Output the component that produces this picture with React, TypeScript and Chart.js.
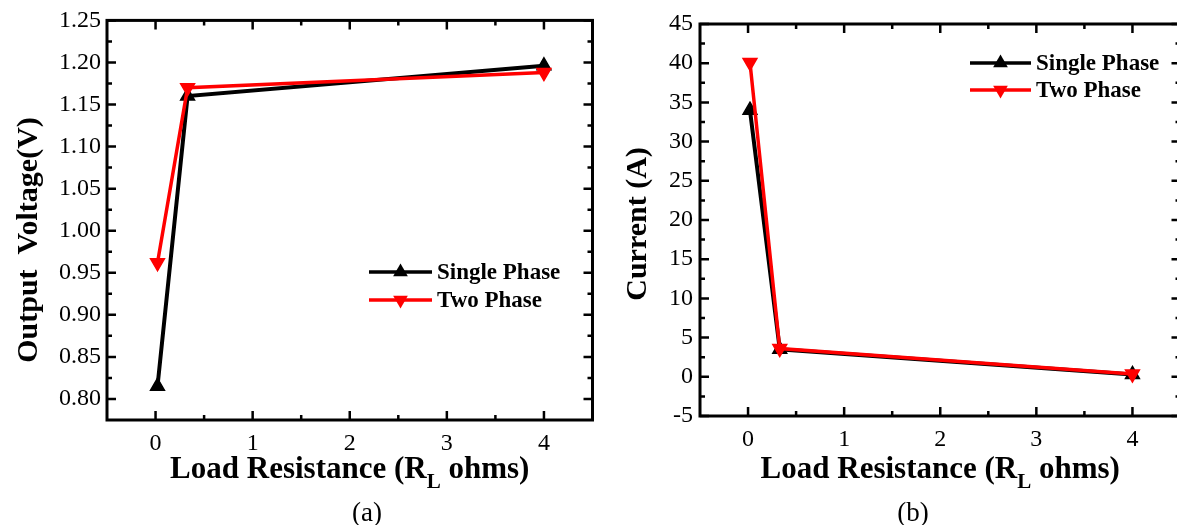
import React, { useEffect, useRef } from "react";
import { Chart, registerables } from "chart.js";

Chart.register(...registerables);

// ---------- data ----------
const resistance = [0.02, 0.33, 4];
const voltageSingle = [0.815, 1.16, 1.196];
const voltageTwo = [0.962, 1.17, 1.188];
const currentSingle = [34.0, 3.5, 0.3];
const currentTwo = [40.1, 3.6, 0.35];
const xTickValues = [0, 1, 2, 3, 4];
const voltageTicks = [0.8, 0.85, 0.9, 0.95, 1.0, 1.05, 1.1, 1.15, 1.2, 1.25];
const currentTicks = [-5, 0, 5, 10, 15, 20, 25, 30, 35, 40, 45];
const seriesLabels = ["Single Phase", "Two Phase"];
const xTitleParts = ["Load Resistance (R", "L", " ohms)"];
const captions = ["(a)", "(b)"];
const yTitles = ["Output  Voltage(V)", "Current (A)"];

const SERIF = "'Liberation Serif', 'Times New Roman', serif";

function minorsOf(major: number[], min: number, max: number) {
  const out: number[] = [];
  for (let i = 0; i < major.length - 1; i++) out.push((major[i] + major[i + 1]) / 2);
  const step = major[1] - major[0];
  const before = major[0] - step / 2;
  const after = major[major.length - 1] + step / 2;
  if (before > min + 1e-9) out.push(before);
  if (after < max - 1e-9) out.push(after);
  return out;
}

const framePlugin = {
  id: "frameTicks",
  afterDraw(chart: any) {
    const { ctx, chartArea } = chart;
    const { left, right, top, bottom } = chartArea;
    const xs = chart.scales.x;
    const ys = chart.scales.y;
    const o = chart.options.plugins.frameTicks;
    ctx.save();
    ctx.strokeStyle = "#000";
    ctx.lineCap = "butt";
    ctx.lineWidth = 2.5;
    const major = 9;
    const minor = 5;
    const drawX = (v: number, len: number) => {
      const p = xs.getPixelForValue(v);
      ctx.beginPath();
      ctx.moveTo(p, bottom);
      ctx.lineTo(p, bottom - len);
      ctx.moveTo(p, top);
      ctx.lineTo(p, top + len);
      ctx.stroke();
    };
    const drawY = (v: number, len: number) => {
      const p = ys.getPixelForValue(v);
      ctx.beginPath();
      ctx.moveTo(left, p);
      ctx.lineTo(left + len, p);
      ctx.moveTo(right, p);
      ctx.lineTo(right - len, p);
      ctx.stroke();
    };
    o.xMajor.forEach((v: number) => drawX(v, major));
    minorsOf(o.xMajor, xs.min, xs.max).forEach((v) => drawX(v, minor));
    o.yMajor.forEach((v: number) => drawY(v, major));
    minorsOf(o.yMajor, ys.min, ys.max).forEach((v) => drawY(v, minor));
    ctx.lineWidth = 3;
    ctx.strokeRect(left, top, right - left, bottom - top);

    // legend
    const lg = o.legend;
    chart.data.datasets.forEach((ds: any, i: number) => {
      const idx = lg.order[i];
      const y = lg.y + idx * lg.gap;
      ctx.strokeStyle = ds.borderColor;
      ctx.lineWidth = 3.5;
      ctx.beginPath();
      ctx.moveTo(lg.x, y);
      ctx.lineTo(lg.x + lg.len, y);
      ctx.stroke();
      ctx.fillStyle = ds.pointBackgroundColor;
      ctx.beginPath();
      const r = 8.5;
      const cx = lg.x + lg.len / 2;
      if (ds.pointRotation === 180) {
        ctx.moveTo(cx, y + r);
        ctx.lineTo(cx - r * 0.866, y - r * 0.5);
        ctx.lineTo(cx + r * 0.866, y - r * 0.5);
      } else {
        ctx.moveTo(cx, y - r);
        ctx.lineTo(cx - r * 0.866, y + r * 0.5);
        ctx.lineTo(cx + r * 0.866, y + r * 0.5);
      }
      ctx.closePath();
      ctx.fill();
      ctx.fillStyle = "#000";
      ctx.font = `bold 23px ${SERIF}`;
      ctx.textAlign = "left";
      ctx.textBaseline = "middle";
      ctx.fillText(ds.label, lg.x + lg.len + 5, y + 1);
    });

    // x title with subscript
    const cxT = (left + right) / 2;
    const big = `bold 31px ${SERIF}`;
    const small = `bold 21px ${SERIF}`;
    ctx.font = big;
    const w1 = ctx.measureText(o.xTitle[0]).width;
    const w3 = ctx.measureText(o.xTitle[2]).width;
    ctx.font = small;
    const w2 = ctx.measureText(o.xTitle[1]).width;
    const total = w1 + w2 + w3;
    let xp = cxT - total / 2;
    ctx.fillStyle = "#000";
    ctx.textAlign = "left";
    ctx.textBaseline = "alphabetic";
    ctx.font = big;
    ctx.fillText(o.xTitle[0], xp, o.xTitleY);
    xp += w1;
    ctx.font = small;
    ctx.fillText(o.xTitle[1], xp, o.xTitleY + 10);
    xp += w2;
    ctx.font = big;
    ctx.fillText(o.xTitle[2], xp, o.xTitleY);

    // y title
    ctx.save();
    ctx.translate(o.yTitleX, o.yTitleY);
    ctx.rotate(-Math.PI / 2);
    ctx.font = `bold 30px ${SERIF}`;
    ctx.textAlign = "center";
    ctx.textBaseline = "alphabetic";
    ctx.fillText(o.yTitle, 0, 0);
    ctx.restore();

    ctx.restore();
  },
};

type Panel = {
  canvasLeft: number;
  canvasWidth: number;
  yAxisW: number;
  padTop: number;
  padRight: number;
  xAxisH: number;
  yMin: number;
  yMax: number;
  yTicks: number[];
  decimals: number;
  yLabelPad: number;
  single: number[];
  two: number[];
  yTitle: string;
  yTitleX: number;
  yTitleY: number;
  legend: { x: number; y: number; gap: number; len: number; order: number[] };
};

function PanelChart({ p }: { p: Panel }) {
  const ref = useRef<HTMLCanvasElement | null>(null);
  useEffect(() => {
    if (!ref.current) return;
    const tickFont = { family: SERIF, size: 24, weight: "normal" as const };
    const chart = new Chart(ref.current, {
      type: "line",
      data: {
        datasets: [
          {
            label: seriesLabels[1],
            data: resistance.map((x, i) => ({ x, y: p.two[i] })),
            borderColor: "#ff0000",
            backgroundColor: "#ff0000",
            pointBackgroundColor: "#ff0000",
            pointBorderColor: "#ff0000",
            pointStyle: "triangle",
            pointRotation: 180,
            pointRadius: 8,
            pointBorderWidth: 1.5,
            borderWidth: 3.5,
            tension: 0,
            order: 0,
          } as any,
          {
            label: seriesLabels[0],
            data: resistance.map((x, i) => ({ x, y: p.single[i] })),
            borderColor: "#000000",
            backgroundColor: "#000000",
            pointBackgroundColor: "#000000",
            pointBorderColor: "#000000",
            pointStyle: "triangle",
            pointRotation: 0,
            pointRadius: 8,
            pointBorderWidth: 1.5,
            borderWidth: 4,
            tension: 0,
            order: 1,
          } as any,
        ],
      },
      options: {
        responsive: false,
        animation: false,
        events: [],
        layout: { padding: { top: p.padTop, right: p.padRight, left: 0, bottom: 0 } },
        plugins: {
          legend: { display: false },
          tooltip: { enabled: false },
          frameTicks: {
            xMajor: xTickValues,
            yMajor: p.yTicks,
            legend: p.legend,
            xTitle: xTitleParts,
            xTitleY: 478,
            yTitle: p.yTitle,
            yTitleX: p.yTitleX,
            yTitleY: p.yTitleY,
          },
        } as any,
        scales: {
          x: {
            type: "linear",
            min: -0.5,
            max: 4.5,
            grid: { display: false, drawTicks: false },
            border: { display: false },
            afterBuildTicks: (s: any) => {
              s.ticks = xTickValues.map((v) => ({ value: v }));
            },
            afterFit: (s: any) => {
              s.height = p.xAxisH;
            },
            ticks: { font: tickFont, color: "#000", padding: 9, maxRotation: 0, autoSkip: false },
          },
          y: {
            type: "linear",
            min: p.yMin,
            max: p.yMax,
            grid: { display: false, drawTicks: false },
            border: { display: false },
            afterBuildTicks: (s: any) => {
              s.ticks = p.yTicks.map((v) => ({ value: v }));
            },
            afterFit: (s: any) => {
              s.width = p.yAxisW;
            },
            ticks: {
              font: tickFont,
              color: "#000",
              padding: p.yLabelPad,
              autoSkip: false,
              callback: (v: any) => Number(v).toFixed(p.decimals),
            },
          },
        },
      },
      plugins: [framePlugin],
    });
    return () => chart.destroy();
  }, [p]);
  return (
    <canvas
      ref={ref}
      width={p.canvasWidth}
      height={525}
      style={{ position: "absolute", left: p.canvasLeft, top: 0, width: p.canvasWidth, height: 525 }}
    />
  );
}

const panelA: Panel = {
  canvasLeft: 0,
  canvasWidth: 602,
  yAxisW: 107,
  padTop: 20,
  padRight: 4,
  xAxisH: 105,
  yMin: 0.775,
  yMax: 1.25,
  yTicks: voltageTicks,
  decimals: 2,
  yLabelPad: 6,
  single: voltageSingle,
  two: voltageTwo,
  yTitle: yTitles[0],
  yTitleX: 37,
  yTitleY: 240,
  legend: { x: 369, y: 272, gap: 28, len: 63, order: [1, 0] },
};

const panelB: Panel = {
  canvasLeft: 600,
  canvasWidth: 590,
  yAxisW: 100,
  padTop: 24,
  padRight: 5,
  xAxisH: 109,
  yMin: -5,
  yMax: 45,
  yTicks: currentTicks,
  decimals: 0,
  yLabelPad: 7,
  single: currentSingle,
  two: currentTwo,
  yTitle: yTitles[1],
  yTitleX: 46,
  yTitleY: 224,
  legend: { x: 370, y: 63, gap: 27, len: 61, order: [1, 0] },
};

export default function App() {
  return (
    <div
      style={{
        position: "fixed",
        left: 0,
        top: 0,
        width: 1177,
        height: 525,
        overflow: "hidden",
        background: "#fff",
      }}
    >
      <PanelChart p={panelA} />
      <PanelChart p={panelB} />
      <div
        style={{
          position: "absolute",
          left: 327,
          width: 80,
          top: 494,
          textAlign: "center",
          fontFamily: SERIF,
          fontSize: 27,
          lineHeight: "36px",
          color: "#000",
        }}
      >
        {captions[0]}
      </div>
      <div
        style={{
          position: "absolute",
          left: 873,
          width: 80,
          top: 494,
          textAlign: "center",
          fontFamily: SERIF,
          fontSize: 27,
          lineHeight: "36px",
          color: "#000",
        }}
      >
        {captions[1]}
      </div>
    </div>
  );
}
